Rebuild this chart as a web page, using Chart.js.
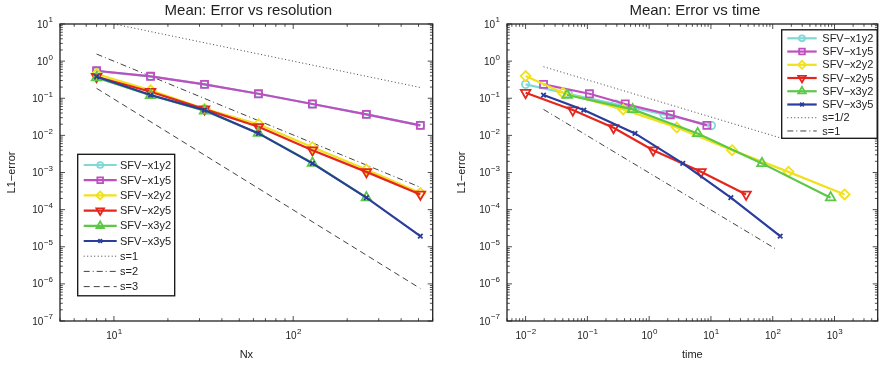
<!DOCTYPE html>
<html>
<head>
<meta charset="utf-8">
<script src="https://cdn.jsdelivr.net/npm/chart.js"></script>
<style>
html, body { margin:0; padding:0; background:#fff; overflow:hidden; width:880px; height:365px; }
#left { position:absolute; left:0; top:0; }
#right { position:absolute; left:440px; top:0; }
</style>
</head>
<body>
<canvas id="left" width="440" height="365"></canvas>
<canvas id="right" width="445" height="365"></canvas>
<script>
// ---- left panel: error vs resolution ----
var nx = [8, 16, 32, 64, 128, 256, 512];
var nx6 = [8, 16, 32, 64, 128, 256];
var resX1y2 = [0.54, 0.39, 0.237, 0.132, 0.070, 0.0368, 0.0186];
var resX1y5 = [0.55, 0.39, 0.237, 0.132, 0.070, 0.0368, 0.0186];
var resX2y2 = [0.45, 0.163, 0.052, 0.020, 0.0048, 0.0012, 0.00028];
var resX2y5 = [0.38, 0.15, 0.051, 0.017, 0.0040, 0.00104, 0.000257];
var resX3y2 = [0.36, 0.12, 0.046, 0.0115, 0.0018, 0.00021];
var resX3y5 = [0.38, 0.122, 0.048, 0.0113, 0.00176, 0.00021, 0.0000193];
var refNx = [8, 512];
var refS1 = [12.5, 0.195];
var refS2 = [1.55, 0.0004];
var refS3 = [0.185, 7.5e-7];

// ---- right panel: error vs time ----
var tX1y2 = [0.01, 0.049, 0.285, 1.74, 10.2];
var eX1y2 = [0.237, 0.132, 0.070, 0.0364, 0.0184];
var tX1y5 = [0.0195, 0.108, 0.41, 2.2, 8.6];
var eX1y5 = [0.237, 0.132, 0.070, 0.036, 0.0186];
var tX2y2 = [0.01, 0.040, 0.38, 2.8, 22, 180, 1455];
var eX2y2 = [0.396, 0.141, 0.050, 0.0164, 0.0040, 0.00104, 0.000257];
var tX2y5 = [0.01, 0.058, 0.265, 1.16, 6.9, 37];
var eX2y5 = [0.141, 0.048, 0.016, 0.0040, 0.00104, 0.000257];
var tX3y2 = [0.047, 0.54, 6.1, 67, 865];
var eX3y2 = [0.122, 0.050, 0.0113, 0.00176, 0.00021];
var tX3y5 = [0.0195, 0.0875, 0.59, 3.5, 21, 132];
var eX3y5 = [0.122, 0.048, 0.0113, 0.00176, 0.00021, 0.0000193];
var refTHalf = [0.0195, 132];
var refSHalf = [0.707, 0.0086];
var refTOne = [0.0195, 115];
var refSOne = [0.05, 8.5e-6];

// tick labels (powers of ten)
var yExps = [-7, -6, -5, -4, -3, -2, -1, 0, 1];
var xExpsLeft = [1, 2];
var xExpsRight = [-2, -1, 0, 1, 2, 3];

var FONT = "'Liberation Sans', Arial, Helvetica, sans-serif";
Chart.defaults.font.family = FONT;
Chart.defaults.color = '#222';

var styles = {
  x1y2: {color: '#7fd9d4', marker: 'circle', r: 3.7, rot: 0},
  x1y5: {color: '#bf4fc0', marker: 'rect', r: 5, rot: 0},
  x2y2: {color: '#f0e11c', marker: 'rectRot', r: 5, rot: 0},
  x2y5: {color: '#e5261c', marker: 'triangle', r: 5.5, rot: 180},
  x3y2: {color: '#5bc846', marker: 'triangle', r: 5.5, rot: 0},
  x3y5: {color: '#2a3d9c', marker: 'crossRot', r: 3.2, rot: 0}
};

function pts(xs, ys) {
  return ys.map(function(y, i) { return {x: xs[i], y: y}; });
}

function series(label, xs, ys, st, order) {
  return {
    label: label, data: pts(xs, ys), showLine: true, fill: false, tension: 0,
    borderColor: st.color, backgroundColor: 'rgba(0,0,0,0)', borderWidth: 2.2,
    pointStyle: st.marker, pointRadius: st.r, pointRotation: st.rot,
    pointBorderColor: st.color, pointBackgroundColor: 'rgba(0,0,0,0)',
    pointBorderWidth: 1.8, pointHoverRadius: st.r, order: order
  };
}

function refLine(label, xs, ys, dash) {
  return {
    label: label, data: pts(xs, ys), showLine: true, fill: false,
    borderColor: '#111', borderWidth: 0.8, borderDash: dash,
    pointRadius: 0, order: 20
  };
}

function expText(e) { return e < 0 ? '\u2212' + (-e) : '' + e; }

// box, inward ticks, decade labels, title
var frame = {
  id: 'frame',
  afterDraw: function(chart, args, o) {
    var ctx = chart.ctx, a = chart.chartArea;
    var xs = chart.scales.x, ys = chart.scales.y;
    ctx.save();
    ctx.strokeStyle = '#222';
    ctx.lineWidth = 0.8;
    ctx.beginPath();
    function each(scale, fn) {
      var lo = Math.floor(Math.log10(scale.min)), hi = Math.ceil(Math.log10(scale.max));
      for (var e = lo; e <= hi; e++) {
        for (var m = 1; m <= 9; m++) {
          var v = m * Math.pow(10, e);
          if (v < scale.min * 0.999 || v > scale.max * 1.001) continue;
          fn(scale.getPixelForValue(v), m === 1 ? 5 : 2.8);
        }
      }
    }
    each(xs, function(p, len) {
      ctx.moveTo(p, a.bottom); ctx.lineTo(p, a.bottom - len);
      ctx.moveTo(p, a.top); ctx.lineTo(p, a.top + len);
    });
    each(ys, function(p, len) {
      ctx.moveTo(a.left, p); ctx.lineTo(a.left + len, p);
      ctx.moveTo(a.right, p); ctx.lineTo(a.right - len, p);
    });
    ctx.stroke();
    ctx.lineWidth = 1.3;
    ctx.strokeRect(a.left, a.top, a.right - a.left, a.bottom - a.top);

    // decade labels
    ctx.fillStyle = '#222';
    ctx.textBaseline = 'alphabetic';
    ctx.textAlign = 'left';
    o.xExps.forEach(function(e) {
      var p = xs.getPixelForValue(Math.pow(10, e));
      ctx.font = '10px ' + FONT;
      var w1 = ctx.measureText('10').width;
      ctx.font = '8px ' + FONT;
      var s = expText(e), w2 = ctx.measureText(s).width;
      var x0 = p - (w1 + w2) / 2;
      ctx.font = '10px ' + FONT;
      ctx.fillText('10', x0, a.bottom + 18);
      ctx.font = '8px ' + FONT;
      ctx.fillText(s, x0 + w1 + 0.5, a.bottom + 13);
    });
    o.yExps.forEach(function(e) {
      var p = ys.getPixelForValue(Math.pow(10, e));
      ctx.font = '8px ' + FONT;
      var s = expText(e), w2 = ctx.measureText(s).width;
      ctx.font = '10px ' + FONT;
      var w1 = ctx.measureText('10').width;
      var xr = a.left - 7;
      ctx.fillText('10', xr - w2 - w1 - 0.5, p + 3.6);
      ctx.font = '8px ' + FONT;
      ctx.fillText(s, xr - w2, p - 1.6);
    });

    // title
    ctx.font = '15px ' + FONT;
    ctx.textAlign = 'center';
    ctx.fillText(o.title, (a.left + a.right) / 2 + o.titleShift, 15);
    ctx.restore();
  }
};

// boxed legend drawn inside the plot area
var boxLegend = {
  id: 'boxLegend',
  afterDraw: function(chart, args, o) {
    var ctx = chart.ctx;
    var dsets = chart.data.datasets;
    ctx.save();
    ctx.fillStyle = '#fff';
    ctx.fillRect(o.x, o.y, o.w, o.h);
    ctx.strokeStyle = '#111';
    ctx.lineWidth = 1.3;
    ctx.strokeRect(o.x, o.y, o.w, o.h);
    dsets.forEach(function(ds, i) {
      var yy = o.y + o.first + i * o.gap;
      var x1 = o.x + o.s0, x2 = o.x + o.s0 + o.sw;
      ctx.strokeStyle = ds.borderColor;
      ctx.lineWidth = ds.borderWidth;
      ctx.setLineDash(ds.borderDash || []);
      ctx.beginPath();
      ctx.moveTo(x1, yy); ctx.lineTo(x2, yy);
      ctx.stroke();
      ctx.setLineDash([]);
      if (ds.pointRadius > 0 && Chart.helpers && Chart.helpers.drawPoint) {
        ctx.strokeStyle = ds.pointBorderColor;
        ctx.fillStyle = 'rgba(0,0,0,0)';
        ctx.lineWidth = ds.pointBorderWidth;
        Chart.helpers.drawPoint(ctx, {
          pointStyle: ds.pointStyle, rotation: ds.pointRotation,
          radius: ds.pointRadius * 0.8, borderWidth: ds.pointBorderWidth
        }, (x1 + x2) / 2, yy);
      }
      ctx.fillStyle = '#222';
      ctx.font = '11px ' + FONT;
      ctx.textAlign = 'left';
      ctx.textBaseline = 'middle';
      ctx.fillText(ds.label, o.x + o.tx, yy + 0.5);
    });
    ctx.restore();
  }
};

function makeChart(id, datasets, xr, yTitlePad, yWidth, padRight, frameOpts, legendOpts, xTitle) {
  return new Chart(document.getElementById(id), {
    type: 'scatter',
    data: {datasets: datasets},
    options: {
      responsive: false,
      animation: false,
      layout: {padding: {top: 24, right: padRight, left: 0, bottom: 0}},
      plugins: {
        legend: {display: false},
        tooltip: {enabled: false},
        frame: frameOpts,
        boxLegend: legendOpts
      },
      scales: {
        x: {
          type: 'logarithmic', min: xr[0], max: xr[1],
          grid: {display: false, drawTicks: false},
          border: {display: false},
          ticks: {display: false},
          title: {display: true, text: xTitle, font: {size: 11}, padding: {top: 0, bottom: 3}},
          afterFit: function(s) { s.height = 44; }
        },
        y: {
          type: 'logarithmic', min: 1e-7, max: 10,
          grid: {display: false, drawTicks: false},
          border: {display: false},
          ticks: {display: false},
          title: {display: true, text: 'L1\u2212error', font: {size: 11}, padding: {top: yTitlePad, bottom: 0}},
          afterFit: function(s) { s.width = yWidth; }
        }
      }
    },
    plugins: [frame, boxLegend]
  });
}

makeChart('left', [
  series('SFV\u2212x1y2', nx, resX1y2, styles.x1y2, 6),
  series('SFV\u2212x1y5', nx, resX1y5, styles.x1y5, 5),
  series('SFV\u2212x2y2', nx, resX2y2, styles.x2y2, 4),
  series('SFV\u2212x2y5', nx, resX2y5, styles.x2y5, 3),
  series('SFV\u2212x3y2', nx6, resX3y2, styles.x3y2, 2),
  series('SFV\u2212x3y5', nx, resX3y5, styles.x3y5, 1),
  refLine('s=1', refNx, refS1, [1, 2.5]),
  refLine('s=2', refNx, refS2, [6, 3, 1, 3]),
  refLine('s=3', refNx, refS3, [6, 4])
], [5, 600], 5, 60, 4,
  {title: 'Mean: Error vs resolution', titleShift: 2, xExps: xExpsLeft, yExps: yExps},
  {x: 77.7, y: 154.3, w: 97, h: 141.5, first: 10.7, gap: 15.2, s0: 6, sw: 33, tx: 42.3},
  'Nx');

makeChart('right', [
  series('SFV\u2212x1y2', tX1y2, eX1y2, styles.x1y2, 6),
  series('SFV\u2212x1y5', tX1y5, eX1y5, styles.x1y5, 5),
  series('SFV\u2212x2y2', tX2y2, eX2y2, styles.x2y2, 4),
  series('SFV\u2212x2y5', tX2y5, eX2y5, styles.x2y5, 3),
  series('SFV\u2212x3y2', tX3y2, eX3y2, styles.x3y2, 2),
  series('SFV\u2212x3y5', tX3y5, eX3y5, styles.x3y5, 1),
  refLine('s=1/2', refTHalf, refSHalf, [1, 2.5]),
  refLine('s=1', refTOne, refSOne, [6, 3, 1, 3])
], [0.005, 5000], 15, 67, 3,
  {title: 'Mean: Error vs time', titleShift: 2.5, xExps: xExpsRight, yExps: yExps},
  {x: 341.7, y: 29.8, w: 95.5, h: 108.5, first: 8.5, gap: 13.24, s0: 5.6, sw: 29.4, tx: 40.6},
  'time');
</script>
</body>
</html>
